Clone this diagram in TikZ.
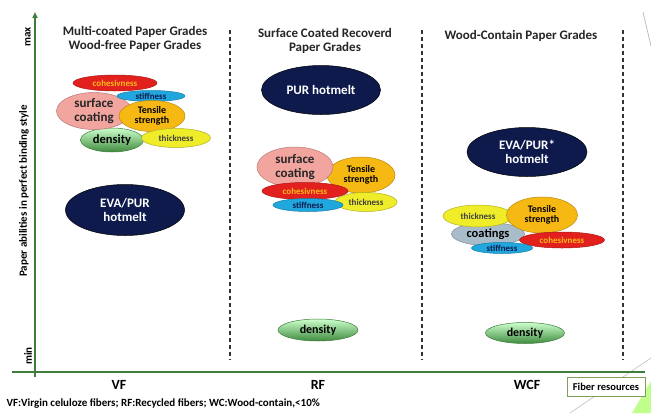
\documentclass[tikz,border=0pt]{standalone}
\usepackage{fontspec}
\setmainfont{Carlito}
\usetikzlibrary{shapes.geometric,arrows.meta}
\definecolor{navyc}{HTML}{0E1A4C}
\definecolor{pinkc}{HTML}{F2A59E}
\definecolor{orangec}{HTML}{F6B812}
\definecolor{redc}{HTML}{E2211F}
\definecolor{bluec}{HTML}{1FA7DE}
\definecolor{yellowc}{HTML}{EFEC2A}
\definecolor{greyc}{HTML}{A9BCCA}
\definecolor{axisc}{HTML}{3E7D3A}
\definecolor{boxc}{HTML}{7E9E5A}
\begin{document}
\begin{tikzpicture}[x=1pt, y=-1pt,
        blob/.style={ellipse, inner sep=-4pt, line width=0.5pt, align=center},
        navyn/.style={blob, draw=black, fill=navyc, text=white, font=\bfseries\fontsize{13}{14}\selectfont},
        pinkn/.style={blob, draw=pinkc!75!black, fill=pinkc, text=black!85, font=\bfseries\fontsize{13}{13.5}\selectfont},
        orangen/.style={blob, draw=orangec!75!black, fill=orangec, font=\bfseries\fontsize{10}{10.5}\selectfont},
        redn/.style={blob, draw=redc!75!black, fill=redc, text=yellowc!55!orange, font=\bfseries\fontsize{9}{9}\selectfont},
        bluen/.style={blob, draw=bluec!75!black, fill=bluec, text=navyc, font=\bfseries\fontsize{9}{9}\selectfont},
        yellown/.style={blob, draw=yellowc!75!black, fill=yellowc, text=black!75, font=\bfseries\fontsize{9}{9}\selectfont},
        greyn/.style={blob, draw=greyc!75!black, fill=greyc, font=\bfseries\fontsize{12.5}{13}\selectfont},
        greenn/.style={blob, draw=axisc, top color=green!20!white, bottom color=green!40!black!75, font=\bfseries\fontsize{12}{12}\selectfont},
        title/.style={font=\bfseries\fontsize{13}{14.5}\selectfont, align=center, text=black!85},
        axisline/.style={draw=axisc, line width=1.6pt},
        divider/.style={dashed, dash pattern=on 4pt off 3pt, line width=1.3pt, black!80},
    ]
    \useasboundingbox[fill=white] (0,0) rectangle (651,413);
    % slide decoration
    \fill[green!55!yellow!45] (651,381) -- (651,413) -- (632,413) -- cycle;
    \draw[black!25, line width=0.6pt] (570,413) -- (651,358);
    \draw[black!25, line width=0.8pt] (643,12) -- (651,46);
    % axes
    \coordinate (ybot) at (35,377);
    \coordinate (ytop) at (35,12);
    \coordinate (xleft) at (12,372);
    \coordinate (xright) at (645,372);
    \draw[axisline] (xleft) -- (xright);
    \draw[axisline, -{Triangle[length=6pt, width=5pt]}] (ybot) -- (ytop);
    \node[rotate=90, font=\bfseries\fontsize{11}{12}\selectfont] (ymax) at (28,37) {max};
    \node[rotate=90, font=\bfseries\fontsize{11}{12}\selectfont] (ymin) at (28,356) {min};
    \node[rotate=90, font=\bfseries\fontsize{11}{12}\selectfont] (ylabel) at (24,191) {Paper abilities in perfect binding style};
    % column dividers
    \foreach \x/\n in {230/a, 422/b, 623/c} {
        \coordinate (top\n) at (\x,30);
        \coordinate (bot\n) at (\x,360);
        \draw[divider] (top\n) -- (bot\n);
    }
    % titles
    \node[title] (t1) at (135,39) {Multi-coated Paper Grades\\Wood-free Paper Grades};
    \node[title] (t2) at (325,41) {Surface Coated Recoverd\\Paper Grades};
    \node[title] (t3) at (521,36) {Wood-Contain Paper Grades};
    % VF column
    \node[greenn, minimum width=63pt, minimum height=24pt, font=\bfseries\fontsize{12.5}{13}\selectfont] (den1) at (112,140) {density};
    \node[pinkn, minimum width=75pt, minimum height=37pt] (sc1) at (94,111) {surface\\coating};
    \node[redn, minimum width=84pt, minimum height=16pt] (coh1) at (115,83) {cohesivness};
    \node[bluen, minimum width=68pt, minimum height=11pt] (stf1) at (151,96) {stiffness};
    \node[orangen, minimum width=66pt, minimum height=31pt] (ts1) at (152,116) {Tensile\\strength};
    \node[yellown, minimum width=69pt, minimum height=19pt] (thk1) at (176,138) {thickness};
    \node[navyn, minimum width=119pt, minimum height=51pt] (eva1) at (125,210) {EVA/PUR\\hotmelt};
    % RF column
    \node[navyn, minimum width=119pt, minimum height=49pt] (pur2) at (321,90) {PUR hotmelt};
    \node[orangen, minimum width=68pt, minimum height=36pt] (ts2) at (361,175) {Tensile\\strength};
    \node[pinkn, minimum width=76pt, minimum height=40pt] (sc2) at (295,167) {surface\\coating};
    \node[yellown, minimum width=62pt, minimum height=19pt] (thk2) at (366,202) {thickness};
    \node[redn, minimum width=86pt, minimum height=17pt] (coh2) at (305,191) {cohesivness};
    \node[bluen, minimum width=70pt, minimum height=13pt] (stf2) at (308,205) {stiffness};
    \node[greenn, minimum width=80pt, minimum height=22pt] (den2) at (318,330) {density};
    % WCF column
    \node[navyn, minimum width=120pt, minimum height=49pt] (eva3) at (527,152) {EVA/PUR*\\hotmelt};
    \node[greyn, minimum width=73pt, minimum height=23pt] (coat3) at (488,234) {coatings};
    \node[yellown, minimum width=70pt, minimum height=22pt] (thk3) at (478,216) {thickness};
    \node[orangen, minimum width=71pt, minimum height=36pt] (ts3) at (542,215) {Tensile\\strength};
    \node[redn, minimum width=85pt, minimum height=16pt] (coh3) at (562,240) {cohesivness};
    \node[bluen, minimum width=61pt, minimum height=11pt] (stf3) at (502,248) {stiffness};
    \node[greenn, minimum width=79pt, minimum height=21pt] (den3) at (525,333) {density};
    % x axis labels
    \node[font=\bfseries\fontsize{14}{15}\selectfont] (vf) at (119,385) {VF};
    \node[font=\bfseries\fontsize{14}{15}\selectfont] (rf) at (318,385) {RF};
    \node[font=\bfseries\fontsize{14}{15}\selectfont] (wcf) at (527,385) {WCF};
    \node[draw=boxc, line width=1pt, fill=white, minimum width=78pt, minimum height=19pt, inner sep=0pt, font=\bfseries\fontsize{10.5}{11}\selectfont] (fiber) at (606,387) {Fiber resources};
    \node[anchor=west, font=\bfseries\fontsize{11}{12}\selectfont] (note) at (3,404) {VF:Virgin celuloze fibers; RF:Recycled fibers; WC:Wood-contain,<10\%};
\end{tikzpicture}
\end{document}
